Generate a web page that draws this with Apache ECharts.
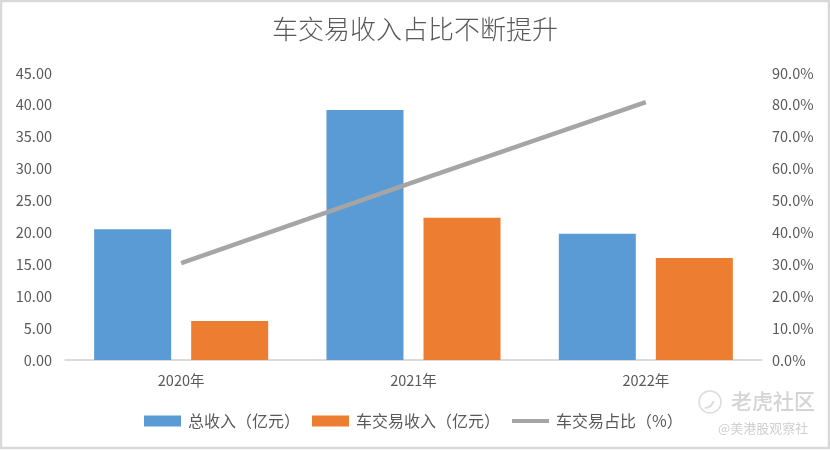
<!DOCTYPE html>
<html>
<head>
<meta charset="utf-8">
<style>
html, body { margin: 0; padding: 0; background: #fff; }
#main { width: 830px; height: 450px; }
</style>
<script src="https://cdn.jsdelivr.net/npm/echarts@6/dist/echarts.min.js"></script>
</head>
<body>
<div id="main"></div>
<script>
var years = ['2020年', '2021年', '2022年'];
var totalRevenue = [20.5, 39.2, 19.8];
var carRevenue = [6.1, 22.3, 16.0];
var carShare = [30.4, 55.8, 80.9];

var fontName = '"Noto Sans CJK SC", "Noto Sans", sans-serif';
var textColor = '#595959';

var myChart = echarts.init(document.getElementById('main'));

var option = {
    animation: false,
    backgroundColor: '#fff',
    textStyle: { fontFamily: fontName },
    title: {
        text: '车交易收入占比不断提升',
        left: 'center',
        top: 11,
        textStyle: { fontFamily: fontName, fontSize: 26, fontWeight: 300, color: textColor }
    },
    legend: {
        left: 139,
        top: 408,
        itemWidth: 37,
        itemHeight: 11,
        itemGap: 12,
        icon: 'rect',
        textStyle: { fontFamily: fontName, fontSize: 16, color: textColor, padding: [0, 0, 0, 2] },
        data: [
            { name: '总收入（亿元）' },
            { name: '车交易收入（亿元）' },
            { name: '车交易占比（%）', icon: 'path://M0,3.5 L37,3.5 L37,7.5 L0,7.5 Z' }
        ]
    },
    grid: { left: 65, right: 68, top: 73, bottom: 90 },
    xAxis: {
        type: 'category',
        data: years,
        axisTick: { show: false },
        axisLine: { lineStyle: { color: '#d0d0d0', width: 1.5 } },
        axisLabel: { color: textColor, fontSize: 14.5, margin: 13 }
    },
    yAxis: [
        {
            type: 'value',
            min: 0,
            max: 45,
            interval: 5,
            splitLine: { show: false },
            axisLine: { show: false },
            axisTick: { show: false },
            axisLabel: {
                color: textColor,
                fontSize: 14.5,
                margin: 13,
                formatter: function (v) { return v.toFixed(2); }
            }
        },
        {
            type: 'value',
            min: 0,
            max: 90,
            interval: 10,
            splitLine: { show: false },
            axisLine: { show: false },
            axisTick: { show: false },
            axisLabel: {
                color: textColor,
                fontSize: 14.5,
                margin: 10,
                formatter: function (v) { return v.toFixed(1) + '%'; }
            }
        }
    ],
    series: [
        {
            name: '总收入（亿元）',
            type: 'bar',
            barWidth: 77,
            barGap: '26%',
            itemStyle: { color: '#5b9bd5' },
            data: totalRevenue
        },
        {
            name: '车交易收入（亿元）',
            type: 'bar',
            barWidth: 77,
            barGap: '26%',
            itemStyle: { color: '#ed7d31' },
            data: carRevenue
        },
        {
            name: '车交易占比（%）',
            type: 'line',
            yAxisIndex: 1,
            symbol: 'none',
            itemStyle: { color: '#a5a5a5' },
            lineStyle: { color: '#a5a5a5', width: 4.5 },
            data: carShare
        }
    ],
    graphic: [
        {
            type: 'rect',
            silent: true,
            z: 100,
            shape: { x: 1, y: 1, width: 828, height: 447 },
            style: { fill: 'none', stroke: '#d9d9d9', lineWidth: 2.5 }
        },
        {
            type: 'text',
            z: 100,
            left: 731,
            top: 391,
            style: { text: '老虎社区', fill: '#d4d4d4', font: '500 21px ' + fontName }
        },
        {
            type: 'text',
            z: 100,
            left: 718,
            top: 422,
            style: { text: '@美港股观察社', fill: '#cfcfcf', font: '13px ' + fontName }
        },
        {
            type: 'circle',
            z: 100,
            silent: true,
            shape: { cx: 710, cy: 402, r: 11 },
            style: { fill: 'none', stroke: '#dcdcdc', lineWidth: 1.5 }
        },
        {
            type: 'arc',
            z: 100,
            silent: true,
            shape: { cx: 704, cy: 398, r: 10, startAngle: 0.3, endAngle: 1.5 },
            style: { fill: 'none', stroke: '#dcdcdc', lineWidth: 2 }
        }
    ]
};

myChart.setOption(option);
</script>
</body>
</html>
